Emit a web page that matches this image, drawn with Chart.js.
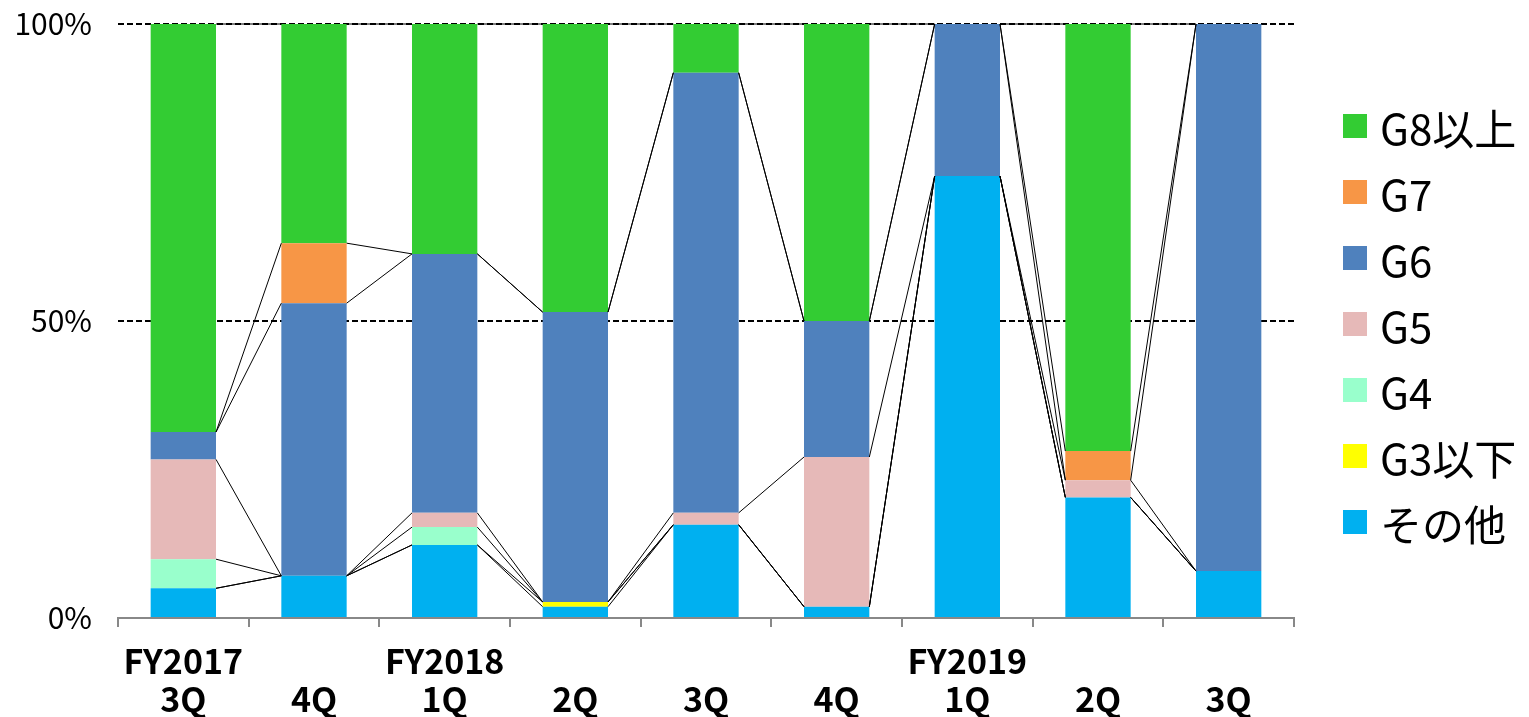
<!DOCTYPE html>
<html>
<head>
<meta charset="utf-8">
<script src="https://cdn.jsdelivr.net/npm/chart.js@4/dist/chart.umd.min.js"></script>
<style>
  body { margin: 0; background: #fff; }
  #wrap { position: relative; width: 1529px; height: 717px; }
  #legend { position: absolute; left: 1343px; top: 93px; font-family: "Noto Sans CJK JP", sans-serif; font-size: 42px; color: #000; }
  #legend div { height: 66px; display: flex; align-items: center; }
  #legend span.box { display: inline-block; width: 24px; height: 24px; margin-right: 13px; }
</style>
</head>
<body>
<div id="wrap">
  <canvas id="chart" width="1529" height="717"></canvas>
  <div id="legend"></div>
</div>
<script>
// categories (two-line labels)
const fyLabels = ['FY2017', '', 'FY2018', '', '', '', 'FY2019', '', ''];
const qLabels = ['3Q', '4Q', '1Q', '2Q', '3Q', '4Q', '1Q', '2Q', '3Q'];

// share per grade, %
const other = [5.0, 7.1, 12.3, 1.9, 15.7, 1.9, 74.4, 20.3, 7.9];
const g3 = [0, 0, 0, 0.8, 0, 0, 0, 0, 0];
const g4 = [4.9, 0, 3.0, 0, 0, 0, 0, 0, 0];
const g5 = [16.8, 0, 2.4, 0, 2.0, 25.2, 0, 2.9, 0];
const g6 = [4.6, 45.9, 43.6, 48.8, 74.1, 22.9, 25.6, 0, 92.1];
const g7 = [0, 10.1, 0, 0, 0, 0, 0, 4.9, 0];
const g8 = [68.7, 36.9, 38.7, 48.5, 8.2, 50.0, 0, 71.9, 0];

const yTicks = [0, 50, 100];

const series = [
    {label: 'その他', data: other, color: '#00B0F0'},
    {label: 'G3以下', data: g3, color: '#FFFF00'},
    {label: 'G4', data: g4, color: '#99FFCC'},
    {label: 'G5', data: g5, color: '#E6B9B8'},
    {label: 'G6', data: g6, color: '#4F81BD'},
    {label: 'G7', data: g7, color: '#F79646'},
    {label: 'G8以上', data: g8, color: '#33CC33'}
];

// legend, top item = last series
const legendEl = document.getElementById('legend');
series.slice().reverse().forEach(s => {
    const row = document.createElement('div');
    const box = document.createElement('span');
    box.className = 'box';
    box.style.background = s.color;
    row.appendChild(box);
    row.appendChild(document.createTextNode(s.label));
    legendEl.appendChild(row);
});

// Excel-like series lines between stacked bars
const seriesLines = {
    id: 'seriesLines',
    afterDatasetsDraw(chart) {
        const ctx = chart.ctx;
        ctx.save();
        ctx.strokeStyle = '#000';
        ctx.lineWidth = 1;
        chart.data.datasets.forEach((ds, d) => {
            const els = chart.getDatasetMeta(d).data;
            for (let i = 0; i < els.length - 1; i++) {
                const a = els[i].getProps(['x', 'y', 'width'], true);
                const b = els[i + 1].getProps(['x', 'y', 'width'], true);
                ctx.beginPath();
                ctx.moveTo(a.x + a.width / 2, a.y);
                ctx.lineTo(b.x - b.width / 2, b.y);
                ctx.stroke();
            }
        });
        ctx.restore();
    }
};

const font = "'Noto Sans CJK JP', sans-serif";

new Chart(document.getElementById('chart'), {
    type: 'bar',
    data: {
        labels: qLabels.map((q, i) => [fyLabels[i], q]),
        datasets: series.map(s => ({
            label: s.label,
            data: s.data,
            backgroundColor: s.color,
            borderWidth: 0,
            categoryPercentage: 1,
            barPercentage: 0.5
        }))
    },
    options: {
        responsive: false,
        animation: false,
        layout: {padding: {top: 24, right: 235, left: 0, bottom: 0}},
        plugins: {legend: {display: false}, tooltip: {enabled: false}},
        scales: {
            x: {
                stacked: true,
                afterFit: sc => { sc.height = 99; },
                border: {color: '#888', width: 2},
                grid: {offset: true, drawOnChartArea: false, tickLength: 9, color: '#888', lineWidth: 2},
                ticks: {
                    color: '#000', padding: 15, maxRotation: 0,
                    font: {family: font, size: 34, weight: 'bold', lineHeight: 1.12}
                }
            },
            y: {
                stacked: true,
                min: 0, max: 100,
                afterFit: sc => { sc.width = 118; sc.paddingTop = 0; sc.paddingBottom = 0; },
                afterBuildTicks: sc => { sc.ticks = yTicks.map(v => ({value: v})); },
                grid: {
                    drawTicks: false,
                    color: c => c.tick.value === 0 ? 'rgba(0,0,0,0)' : '#000',
                    lineWidth: 2
                },
                border: {display: false, dash: [6, 3]},
                ticks: {
                    color: '#000', padding: 26,
                    font: {family: font, size: 30},
                    callback: v => v + '%'
                }
            }
        }
    },
    plugins: [seriesLines]
});
</script>
</body>
</html>
